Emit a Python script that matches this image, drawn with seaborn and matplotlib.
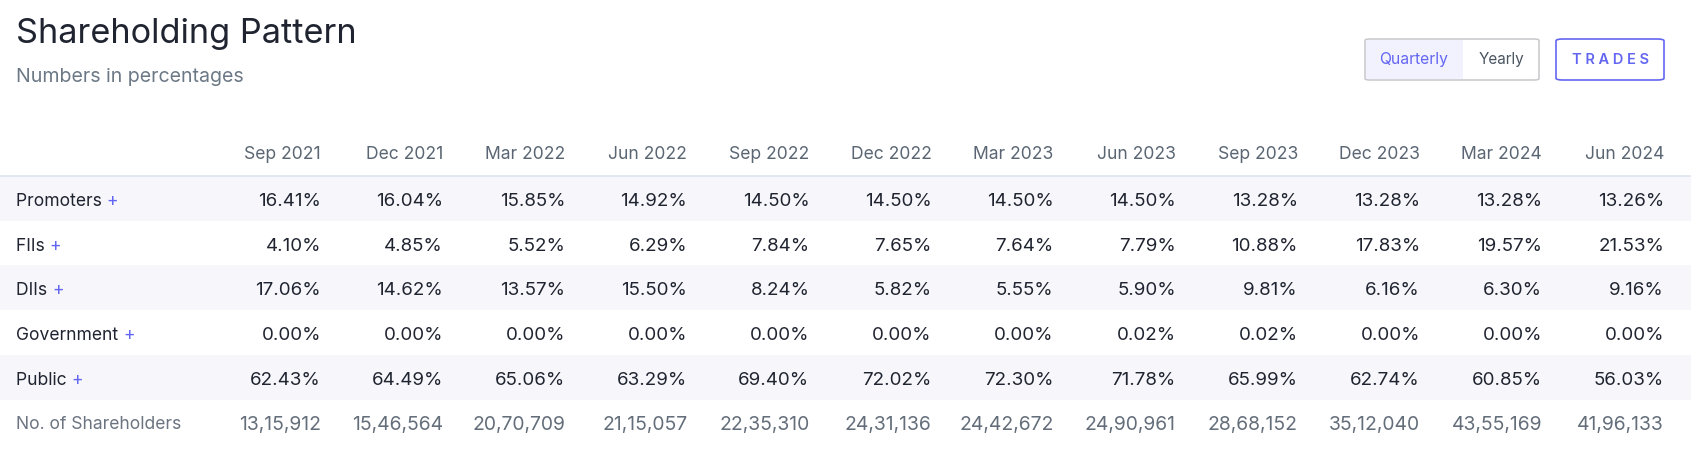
import numpy as np
import matplotlib
matplotlib.use("Agg")
import matplotlib.pyplot as plt
from matplotlib.colors import ListedColormap
from matplotlib.patches import FancyBboxPatch, Rectangle
import seaborn as sns

# ---- data ----
periods = ["Sep 2021", "Dec 2021", "Mar 2022", "Jun 2022", "Sep 2022", "Dec 2022",
           "Mar 2023", "Jun 2023", "Sep 2023", "Dec 2023", "Mar 2024", "Jun 2024"]
categories = ["Promoters", "FIIs", "DIIs", "Government", "Public"]
promoters = [16.41, 16.04, 15.85, 14.92, 14.50, 14.50, 14.50, 14.50, 13.28, 13.28, 13.28, 13.26]
fiis = [4.10, 4.85, 5.52, 6.29, 7.84, 7.65, 7.64, 7.79, 10.88, 17.83, 19.57, 21.53]
diis = [17.06, 14.62, 13.57, 15.50, 8.24, 5.82, 5.55, 5.90, 9.81, 6.16, 6.30, 9.16]
government = [0.00, 0.00, 0.00, 0.00, 0.00, 0.00, 0.00, 0.02, 0.02, 0.00, 0.00, 0.00]
public = [62.43, 64.49, 65.06, 63.29, 69.40, 72.02, 72.30, 71.78, 65.99, 62.74, 60.85, 56.03]
shareholders = ["13,15,912", "15,46,564", "20,70,709", "21,15,057", "22,35,310", "24,31,136",
                "24,42,672", "24,90,961", "28,68,152", "35,12,040", "43,55,169", "41,96,133"]
series = [promoters, fiis, diis, government, public]

# ---- style ----
sns.set_theme(style="white")
plt.rcParams["font.family"] = ["Inter", "DejaVu Sans"]

W, H = 1691, 459
fig = plt.figure(figsize=(W / 100, H / 100), dpi=100)
fig.patch.set_facecolor("white")

def fx(px):
    return px / W

def fy(py):
    return 1 - py / H

DARK = "#1f2430"
PURPLE = "#6366f1"

# title / subtitle
fig.text(fx(16), fy(43), "Shareholding Pattern", fontsize=24.7, color=DARK, va="baseline", ha="left")
fig.text(fx(16), fy(82), "Numbers in percentages", fontsize=14.1, color="#6b7885", va="baseline", ha="left")

# buttons
seg = FancyBboxPatch((fx(1365), fy(80)), fx(1539) - fx(1365), fy(39) - fy(80),
                     boxstyle="round,pad=0,rounding_size=0.003", transform=fig.transFigure,
                     facecolor="white", edgecolor="#c8c8cc", lw=1.1, zorder=2)
fig.add_artist(seg)
fig.add_artist(Rectangle((fx(1366), fy(79)), fx(1463) - fx(1366), fy(40) - fy(79),
                         transform=fig.transFigure, facecolor="#f2f2fe", edgecolor="none", zorder=3))
fig.text(fx(1414), fy(59.5), "Quarterly", fontsize=11.3, color=PURPLE, ha="center", va="center", zorder=4)
fig.text(fx(1501), fy(59.5), "Yearly", fontsize=11.0, color="#4a5562", ha="center", va="center", zorder=4)
trades = FancyBboxPatch((fx(1556), fy(80)), fx(1664) - fx(1556), fy(39) - fy(80),
                        boxstyle="round,pad=0,rounding_size=0.004", transform=fig.transFigure,
                        facecolor="white", edgecolor=PURPLE, lw=1.2, zorder=2)
fig.add_artist(trades)
fig.text(fx(1610), fy(59.5), " ".join("TRADES"), fontsize=10.5, color=PURPLE,
         ha="center", va="center", fontweight="semibold", zorder=4)

# table axes
row_h = 44.7
n_rows = len(categories) + 1
top_px = 176 - row_h
bot_px = 176 + n_rows * row_h
ax = fig.add_axes([0, fy(bot_px), 1, (bot_px - top_px) / H])
stripes = np.array([[1 if i % 2 == 0 else 0] for i in range(n_rows)])
sns.heatmap(stripes, cmap=ListedColormap(["white", "#f7f7fb"]), cbar=False, ax=ax,
            xticklabels=False, yticklabels=False, linewidths=0)
ax.set_xlim(0, 1)
ax.set_ylim(n_rows, -1)
for s in ax.spines.values():
    s.set_visible(False)
ax.axhline(0, color="#dde3ee", lw=1.2)

col_right = [fx(321 + 122.1 * j) for j in range(len(periods))]
FS_LBL = 12.6
FS_PCT = 13.5
FS_CNT = 13.9
dy = 0.07
for j, p in enumerate(periods):
    ax.text(col_right[j], -0.5 + 0.02, p, ha="right", va="center", fontsize=FS_LBL, color="#5a6673")

for i, (cat, vals) in enumerate(zip(categories, series)):
    t = ax.text(fx(16), i + 0.5 + dy, cat + " ", ha="left", va="center", fontsize=FS_LBL, color=DARK)
    ax.annotate("+", xycoords=t, xy=(1, 0.5), va="center", ha="left", fontsize=FS_LBL, color=PURPLE)
    for j, v in enumerate(vals):
        ax.text(col_right[j], i + 0.5 + dy, f"{v:.2f}%", ha="right", va="center", fontsize=FS_PCT, color=DARK)

r = len(categories)
ax.text(fx(16), r + 0.5 + dy, "No. of Shareholders", ha="left", va="center", fontsize=FS_LBL, color="#6b7480")
for j, v in enumerate(shareholders):
    ax.text(col_right[j], r + 0.5 + dy, v, ha="right", va="center", fontsize=FS_CNT, color="#646e7a")

fig.savefig("out.png", dpi=100, facecolor="white")
